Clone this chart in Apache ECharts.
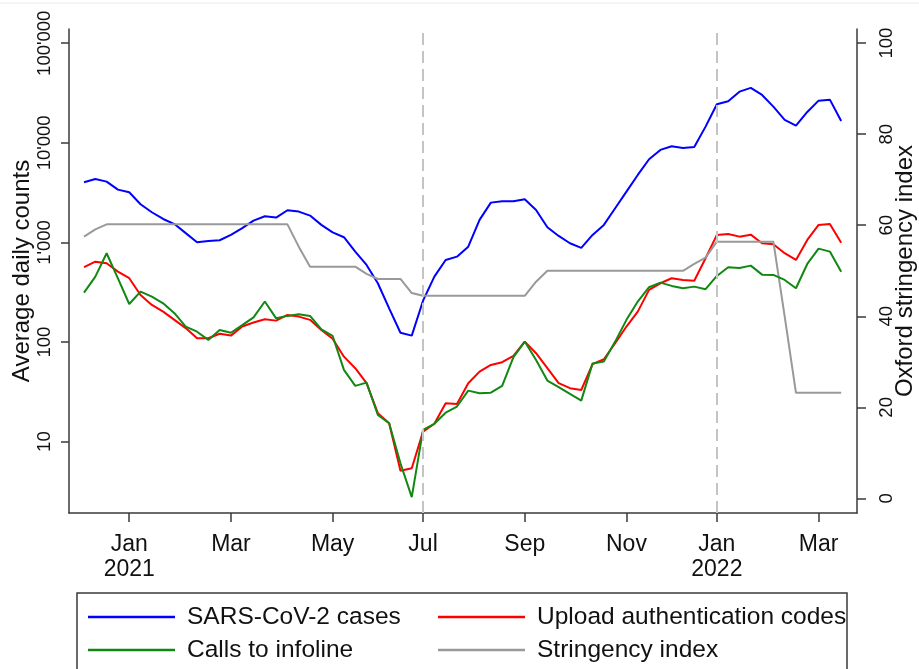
<!DOCTYPE html>
<html>
<head>
<meta charset="utf-8">
<script src="https://cdn.jsdelivr.net/npm/echarts@6/dist/echarts.min.js"></script>
<style>
  html, body { margin: 0; padding: 0; background: #fff; }
  #mybox { width: 919px; height: 669px; }
</style>
</head>
<body>
<div id="mybox"></div>
<script>
// weekly points, week 0 = first week of Jan 2021
var firstWeek = -4;
var cases = [4020, 4340, 4080, 3390, 3190, 2420, 2010, 1720, 1530, 1240, 1005, 1035, 1052, 1190, 1390, 1655, 1830,
  1775, 2105, 2040, 1860, 1500, 1260, 1128, 809, 594, 389, 218, 124, 116, 260, 454, 667, 720, 907, 1683, 2510,
  2590, 2590, 2715, 2120, 1420, 1162, 982, 881, 1190, 1500, 2205, 3236, 4760, 6840, 8490, 9250, 8890, 9100,
  14550, 24400, 26150, 32660, 35600, 30270, 23090, 16980, 14890, 20420, 26530, 27140, 16590];
var uploads = [564, 641, 618, 509, 437, 297, 236, 202, 167, 138, 109, 109, 121, 116, 143, 157, 169, 164, 187,
  180, 167, 132, 108, 71.3, 54.6, 38.6, 19.3, 15.3, 5.1, 5.4, 12.6, 15.1, 24.3, 23.9, 38.6, 50.5, 58.9, 62.7,
  72.5, 101, 77.2, 54.6, 38.6, 34.4, 33.0, 60, 67.2, 97.3, 143, 202, 334, 389, 437, 420, 413, 694, 1190, 1217,
  1143, 1197, 982, 959, 779, 667, 1059, 1500, 1535, 995];
var calls = [313, 454, 779, 435, 241, 321, 286, 245, 195, 143, 127, 105, 132, 124, 148, 177, 255, 173, 183, 190,
  183, 134, 115, 52.5, 36.3, 39.1, 18.5, 15.3, 6.07, 2.77, 13.1, 15.1, 19.5, 22.5, 32.5, 30.6, 31.0, 36.3, 70.4,
  101, 66.1, 41, 35.2, 30.1, 25.8, 61, 63.6, 101, 167, 255, 355, 395, 366, 347, 360, 339, 461, 564, 555, 585,
  475, 472, 420, 347, 608, 867, 809, 509];
var stringency = [57.5, 59.1, 60.2, 60.2, 60.2, 60.2, 60.2, 60.2, 60.2, 60.2, 60.2, 60.2, 60.2, 60.2, 60.2, 60.2,
  60.2, 60.2, 60.2, 55.3, 50.9, 50.9, 50.9, 50.9, 50.9, 49.3, 48.2, 48.2, 48.2, 45.1, 44.5, 44.5, 44.5, 44.5,
  44.5, 44.5, 44.5, 44.5, 44.5, 44.5, 47.6, 50.0, 50.0, 50.0, 50.0, 50.0, 50.0, 50.0, 50.0, 50.0, 50.0, 50.0,
  50.0, 50.0, 51.5, 52.9, 56.4, 56.4, 56.4, 56.4, 56.4, 56.4, 40.0, 23.2, 23.2, 23.2, 23.2, 23.2];

var tickWeeks = [0, 9, 18, 26, 35, 44, 52, 61];
var tickLabels = ['Jan\n2021', 'Mar', 'May', 'Jul', 'Sep', 'Nov', 'Jan\n2022', 'Mar'];
var leftTicks = [10, 100, 1000, 10000, 100000];
var rightTicks = [0, 20, 40, 60, 80, 100];
var markWeeks = [26, 52];

function pairs(arr) {
  return arr.map(function (v, i) { return [firstWeek + i, v]; });
}

var font = 'Liberation Sans, Arial, sans-serif';
var axisCol = '#3a3a3a';

var mycharts = echarts.init(document.getElementById('mybox'));

var legendText = { fontFamily: font, fontSize: 24.5, color: '#111', lineHeight: 26, padding: [0, 0, 0, 7] };

var optionObj = {
  animation: false,
  grid: { left: 69, right: 62, top: 29, bottom: 156, outerBoundsMode: 'none', containLabel: false },
  graphic: [
    { type: 'line', shape: { x1: 0, y1: 3, x2: 919, y2: 3 }, style: { stroke: '#ececec', lineWidth: 1 } },
    { type: 'rect', shape: { x: 77, y: 593, width: 770, height: 100 },
      style: { fill: 'none', stroke: axisCol, lineWidth: 1.5 } }
  ],
  legend: [
    {
      orient: 'vertical', left: 88, top: 604, padding: 0, itemWidth: 87, itemHeight: 2.5, itemGap: 7,
      icon: 'rect', textStyle: legendText,
      data: ['SARS-CoV-2 cases', 'Calls to infoline']
    },
    {
      orient: 'vertical', left: 438, top: 604, padding: 0, itemWidth: 87, itemHeight: 2.5, itemGap: 7,
      icon: 'rect', textStyle: legendText,
      data: ['Upload authentication codes', 'Stringency index']
    }
  ],
  xAxis: {
    type: 'value', min: -5.33, max: 64.4,
    splitLine: { show: false },
    axisLine: { onZero: false, lineStyle: { color: axisCol, width: 1.5 } },
    axisTick: { customValues: tickWeeks, length: 9, lineStyle: { color: axisCol, width: 1.5 } },
    axisLabel: {
      customValues: tickWeeks, margin: 19,
      fontFamily: font, fontSize: 23, color: '#111', lineHeight: 25,
      formatter: function (v) { return tickLabels[tickWeeks.indexOf(Math.round(v))] || ''; }
    }
  },
  yAxis: [
    {
      type: 'log', logBase: 10, min: 1.92, max: 139000,
      name: 'Average daily counts', nameLocation: 'middle', nameRotate: 90, nameGap: 35,
      nameMoveOverlap: false,
      nameTextStyle: { fontFamily: font, fontSize: 24, color: '#111' },
      splitLine: { show: false },
      axisLine: { show: true, onZero: false, lineStyle: { color: axisCol, width: 1.5 } },
      axisTick: { show: true, customValues: leftTicks, length: 8, lineStyle: { color: axisCol, width: 1.5 } },
      axisLabel: {
        customValues: leftTicks, rotate: 90, margin: 15,
        fontFamily: font, fontSize: 18.5, color: '#111',
        formatter: function (v) {
          return String(Math.round(v)).replace(/\B(?=(\d{3})+(?!\d))/g, "'");
        }
      }
    },
    {
      type: 'value', min: -3.2, max: 103.1, position: 'right',
      name: 'Oxford stringency index', nameLocation: 'middle', nameRotate: 90, nameGap: 36,
      nameMoveOverlap: false,
      nameTextStyle: { fontFamily: font, fontSize: 24, color: '#111' },
      splitLine: { show: false },
      axisLine: { show: true, onZero: false, lineStyle: { color: axisCol, width: 1.5 } },
      axisTick: { show: true, customValues: rightTicks, length: 9, lineStyle: { color: axisCol, width: 1.5 } },
      axisLabel: {
        customValues: rightTicks, rotate: 90, margin: 20,
        fontFamily: font, fontSize: 18.5, color: '#111'
      }
    }
  ],
  series: [
    {
      name: 'SARS-CoV-2 cases', type: 'line', yAxisIndex: 0, symbol: 'none',
      color: '#0000ff', lineStyle: { width: 2 }, data: pairs(cases)
    },
    {
      name: 'Upload authentication codes', type: 'line', yAxisIndex: 0, symbol: 'none',
      color: '#ff0000', lineStyle: { width: 2 }, data: pairs(uploads), z: 3
    },
    {
      name: 'Calls to infoline', type: 'line', yAxisIndex: 0, symbol: 'none',
      color: '#118811', lineStyle: { width: 2 }, data: pairs(calls), z: 4
    },
    {
      name: 'Stringency index', type: 'line', yAxisIndex: 1, symbol: 'none',
      color: '#999999', lineStyle: { width: 2 }, data: pairs(stringency),
      markLine: {
        silent: true, symbol: 'none', label: { show: false },
        lineStyle: { color: '#c4c4c4', width: 2, type: [12, 6] },
        data: markWeeks.map(function (w) { return { xAxis: w }; })
      }
    }
  ]
};

mycharts.setOption(optionObj);
</script>
</body>
</html>
